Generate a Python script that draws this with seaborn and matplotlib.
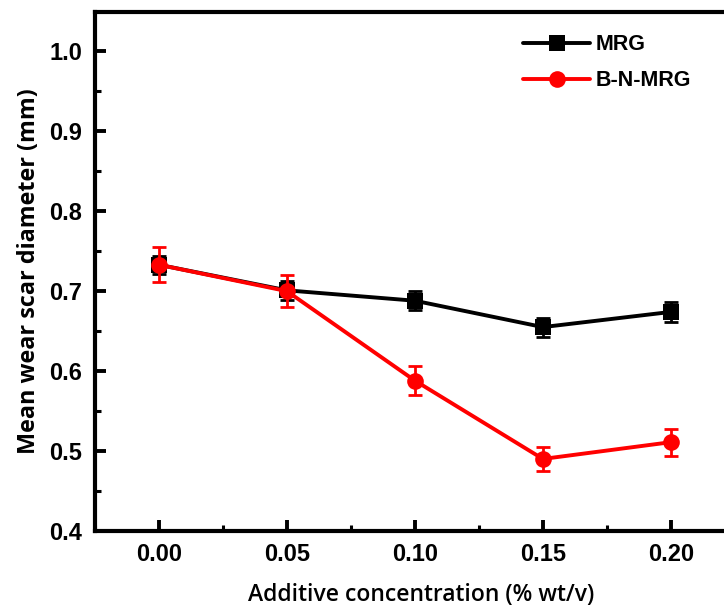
import matplotlib
matplotlib.use("Agg")
import matplotlib.pyplot as plt
import seaborn as sns
import pandas as pd
from matplotlib.ticker import MultipleLocator

concentration = [0.00, 0.05, 0.10, 0.15, 0.20]
mrg_mean = [0.733, 0.701, 0.688, 0.655, 0.674]
mrg_err = [0.011, 0.012, 0.012, 0.012, 0.012]
bnmrg_mean = [0.733, 0.700, 0.588, 0.490, 0.511]
bnmrg_err = [0.022, 0.020, 0.018, 0.015, 0.017]
series_names = ["MRG", "B-N-MRG"]

sns.set_style("ticks")
plt.rcParams['font.family'] = ['Liberation Sans', 'DejaVu Sans']
plt.rcParams['text.color'] = 'black'
plt.rcParams['axes.labelcolor'] = 'black'
plt.rcParams['xtick.color'] = 'black'
plt.rcParams['ytick.color'] = 'black'
plt.rcParams['axes.edgecolor'] = 'black'

df = pd.DataFrame({
    "x": concentration * 2,
    "y": mrg_mean + bnmrg_mean,
    "series": [series_names[0]] * 5 + [series_names[1]] * 5,
})

fig = plt.figure(figsize=(7.24, 6.13), dpi=100)
ax = fig.add_axes([0.131, 0.134, 0.9, 0.846])

palette = {"MRG": "black", "B-N-MRG": "#ff0000"}
sns.lineplot(data=df, x="x", y="y", hue="series", style="series",
             markers={"MRG": "s", "B-N-MRG": "o"}, dashes=False,
             palette=palette, linewidth=2.8, markersize=12,
             markeredgewidth=0, ax=ax, legend=True, zorder=3)

ax.errorbar(concentration, mrg_mean, yerr=mrg_err, fmt="none", ecolor="black",
            elinewidth=2, capsize=5, capthick=2, zorder=2)
ax.errorbar(concentration, bnmrg_mean, yerr=bnmrg_err, fmt="none", ecolor="#ff0000",
            elinewidth=2, capsize=5, capthick=2, zorder=4)

ax.set_xlim(-0.025, 0.2295)
ax.set_ylim(0.4, 1.049)
ax.xaxis.set_minor_locator(MultipleLocator(0.025))
ax.yaxis.set_minor_locator(MultipleLocator(0.05))
ax.set_xticks(concentration)
ax.set_xticklabels([f"{v:.2f}" for v in concentration])
ax.set_yticks([0.4, 0.5, 0.6, 0.7, 0.8, 0.9, 1.0])
ax.set_yticklabels(["0.4", "0.5", "0.6", "0.7", "0.8", "0.9", "1.0"])

ax.tick_params(axis="both", which="major", direction="in", length=8, width=2.8,
               labelsize=17, pad=9)
ax.tick_params(axis="both", which="minor", direction="in", length=4.5, width=2.2)
for lab in ax.get_xticklabels() + ax.get_yticklabels():
    lab.set_fontweight("bold")
for sp in ax.spines.values():
    sp.set_linewidth(3)
    sp.set_visible(True)

ax.set_xlabel("Additive concentration (% wt/v)", fontsize=16.5, fontweight="semibold",
              family=["Open Sans", "DejaVu Sans"], labelpad=12)
ax.set_ylabel("Mean wear scar diameter (mm)", fontsize=16.8, fontweight="bold",
              family=["Open Sans", "DejaVu Sans"])
ax.yaxis.set_label_coords(-0.082, 0.5)

leg = ax.legend(loc="upper left", bbox_to_anchor=(0.628, 0.995), frameon=False,
                prop={"weight": "bold", "size": 15.5}, handlelength=3.1,
                handletextpad=0.25, labelspacing=0.7)
for h in leg.legend_handles:
    h.set_linewidth(2.8)

fig.savefig("out.png", dpi=100)
